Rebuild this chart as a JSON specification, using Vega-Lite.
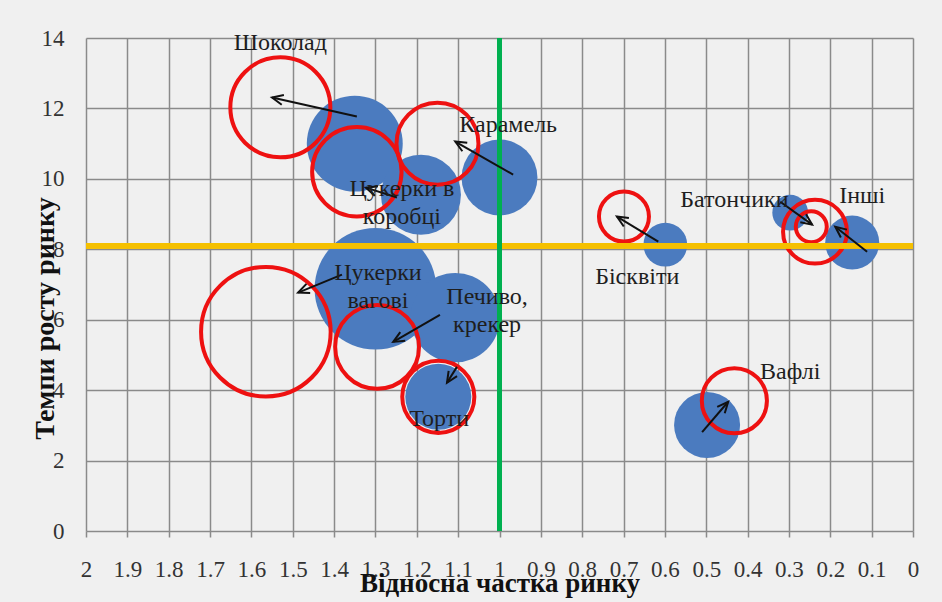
{
  "$schema": "https://vega.github.io/schema/vega-lite/v6.json",
  "autosize": "none",
  "width": 827,
  "height": 493,
  "padding": {"left": 86, "top": 38, "right": 29, "bottom": 71},
  "background": "#f0f0f0",
  "config": {
    "view": {"stroke": null},
    "axis": {
      "grid": true,
      "gridColor": "#8a8a8a",
      "gridWidth": 1.5,
      "gridOpacity": 1,
      "domain": false,
      "labelFont": "Liberation Serif",
      "labelFontSize": 23,
      "labelColor": "#333333",
      "titleFont": "Liberation Serif",
      "titleFontWeight": "bold",
      "titleColor": "#111111"
    }
  },
  "data": {
    "values": [
      {"name": "Шоколад", "share": 1.35, "growth": 11.0, "vol": 23, "share_f": 1.53, "growth_f": 12.03, "vol_f": 25, "ax1": 1.345, "ay1": 11.77, "ax2": 1.55, "ay2": 12.31, "lx": 1.53, "ly": 13.85, "label": "Шоколад"},
      {"name": "Цукерки в коробці", "share": 1.19, "growth": 9.55, "vol": 16, "share_f": 1.345, "growth_f": 10.2, "vol_f": 20, "ax1": 1.248, "ay1": 9.47, "ax2": 1.323, "ay2": 9.75, "lx": 1.236, "ly": 9.72, "label": "Цукерки в\nкоробці"},
      {"name": "Карамель", "share": 1.0, "growth": 10.04, "vol": 14.4, "share_f": 1.15, "growth_f": 11.0, "vol_f": 16.8, "ax1": 0.967, "ay1": 10.12, "ax2": 1.107, "ay2": 11.06, "lx": 0.979, "ly": 11.54, "label": "Карамель"},
      {"name": "Цукерки вагові", "share": 1.3, "growth": 6.88, "vol": 37, "share_f": 1.565, "growth_f": 5.66, "vol_f": 42, "ax1": 1.381, "ay1": 7.28, "ax2": 1.487, "ay2": 6.77, "lx": 1.294, "ly": 7.34, "label": "Цукерки\nвагові"},
      {"name": "Печиво, крекер", "share": 1.107, "growth": 6.06, "vol": 20, "share_f": 1.296, "growth_f": 5.23, "vol_f": 17.6, "ax1": 1.144, "ay1": 6.14, "ax2": 1.257, "ay2": 5.37, "lx": 1.03, "ly": 6.64, "label": "Печиво,\nкрекер"},
      {"name": "Торти", "share": 1.148, "growth": 3.81, "vol": 10.9, "share_f": 1.148, "growth_f": 3.81, "vol_f": 13, "ax1": 1.103, "ay1": 4.66, "ax2": 1.127, "ay2": 4.21, "lx": 1.146, "ly": 3.18, "label": "Торти"},
      {"name": "Бісквіти", "share": 0.599, "growth": 8.13, "vol": 4.8, "share_f": 0.699, "growth_f": 8.93, "vol_f": 6.25, "ax1": 0.616, "ay1": 8.22, "ax2": 0.716, "ay2": 8.93, "lx": 0.667, "ly": 7.22, "label": "Бісквіти"},
      {"name": "Батончики", "share": 0.297, "growth": 9.04, "vol": 3.2, "share_f": 0.246, "growth_f": 8.64, "vol_f": 2.4, "ax1": 0.321, "ay1": 9.35, "ax2": 0.244, "ay2": 8.7, "lx": 0.432, "ly": 9.41, "label": "Батончики"},
      {"name": "Інші", "share": 0.147, "growth": 8.19, "vol": 7.3, "share_f": 0.237, "growth_f": 8.5, "vol_f": 10.2, "ax1": 0.111, "ay1": 7.93, "ax2": 0.188, "ay2": 8.64, "lx": 0.123, "ly": 9.5, "label": "Інші"},
      {"name": "Вафлі", "share": 0.498, "growth": 3.01, "vol": 10.9, "share_f": 0.432, "growth_f": 3.7, "vol_f": 10.6, "ax1": 0.51, "ay1": 2.81, "ax2": 0.447, "ay2": 3.67, "lx": 0.297, "ly": 4.52, "label": "Вафлі"}
    ]
  },
  "layer": [
    {
      "mark": {"type": "point", "shape": "circle", "filled": true, "color": "#4b7bbf", "opacity": 1, "strokeWidth": 0},
      "encoding": {
        "x": {
          "field": "share", "type": "quantitative", "title": "Відносна частка ринку",
          "scale": {"domain": [0, 2], "reverse": true, "nice": false, "zero": false},
          "axis": {
            "values": [0, 0.1, 0.2, 0.3, 0.4, 0.5, 0.6, 0.7, 0.8, 0.9, 1, 1.1, 1.2, 1.3, 1.4, 1.5, 1.6, 1.7, 1.8, 1.9, 2],
            "format": "~g",
            "ticks": true, "tickSize": 6, "tickColor": "#8a8a8a", "tickWidth": 1.5,
            "labelPadding": 21, "labelFlush": false, "labelOverlap": false,
            "titleFontSize": 27, "titleBaseline": "alphabetic", "titleY": 60
          }
        },
        "y": {
          "field": "growth", "type": "quantitative", "title": "Темпи росту ринку",
          "scale": {"domain": [0, 14], "nice": false},
          "axis": {
            "values": [0, 2, 4, 6, 8, 10, 12, 14],
            "ticks": false, "labelPadding": 22, "labelOverlap": false, "labelFlush": false,
            "titleFontSize": 28, "titleAngle": -90, "titleBaseline": "middle", "titleAlign": "center",
            "titleX": -41, "titleY": 280
          }
        },
        "size": {"field": "vol", "type": "quantitative", "scale": {"type": "linear", "domain": [0, 100], "range": [0, 40000]}, "legend": null}
      }
    },
    {
      "mark": {"type": "point", "shape": "circle", "filled": false, "stroke": "#ee1111", "strokeWidth": 4, "opacity": 1},
      "encoding": {
        "x": {"field": "share_f", "type": "quantitative", "title": "Відносна частка ринку"},
        "y": {"field": "growth_f", "type": "quantitative", "title": "Темпи росту ринку"},
        "size": {"field": "vol_f", "type": "quantitative", "scale": {"type": "linear", "domain": [0, 100], "range": [0, 40000]}, "legend": null}
      }
    },
    {
      "mark": {"type": "rule", "color": "#f5c000", "strokeWidth": 5},
      "encoding": {"y": {"datum": 8.1}}
    },
    {
      "mark": {"type": "rule", "color": "#00b050", "strokeWidth": 5},
      "encoding": {"x": {"datum": 1}}
    },
    {
      "mark": {"type": "rule", "color": "#111111", "strokeWidth": 2},
      "encoding": {
        "x": {"field": "ax1", "type": "quantitative", "title": "Відносна частка ринку"},
        "y": {"field": "ay1", "type": "quantitative", "title": "Темпи росту ринку"},
        "x2": {"field": "ax2"},
        "y2": {"field": "ay2"}
      }
    },
    {
      "transform": [
        {"calculate": "atan2(-(datum.ax2 - datum.ax1) * 413.4, (datum.ay2 - datum.ay1) * 35.17) * 180 / PI", "as": "ang"}
      ],
      "mark": {"type": "point", "shape": "M-0.45,1L0,0L0.45,1", "filled": false, "stroke": "#111111", "strokeWidth": 2, "opacity": 1, "size": 484},
      "encoding": {
        "x": {"field": "ax2", "type": "quantitative", "title": "Відносна частка ринку"},
        "y": {"field": "ay2", "type": "quantitative", "title": "Темпи росту ринку"},
        "angle": {"field": "ang", "type": "quantitative", "scale": null}
      }
    },
    {
      "mark": {"type": "text", "font": "Liberation Serif", "fontSize": 24, "color": "#1e1e1e", "align": "center", "baseline": "middle", "lineBreak": "\n", "lineHeight": 28},
      "encoding": {
        "x": {"field": "lx", "type": "quantitative", "title": "Відносна частка ринку"},
        "y": {"field": "ly", "type": "quantitative", "title": "Темпи росту ринку"},
        "text": {"field": "label", "type": "nominal"}
      }
    }
  ]
}
